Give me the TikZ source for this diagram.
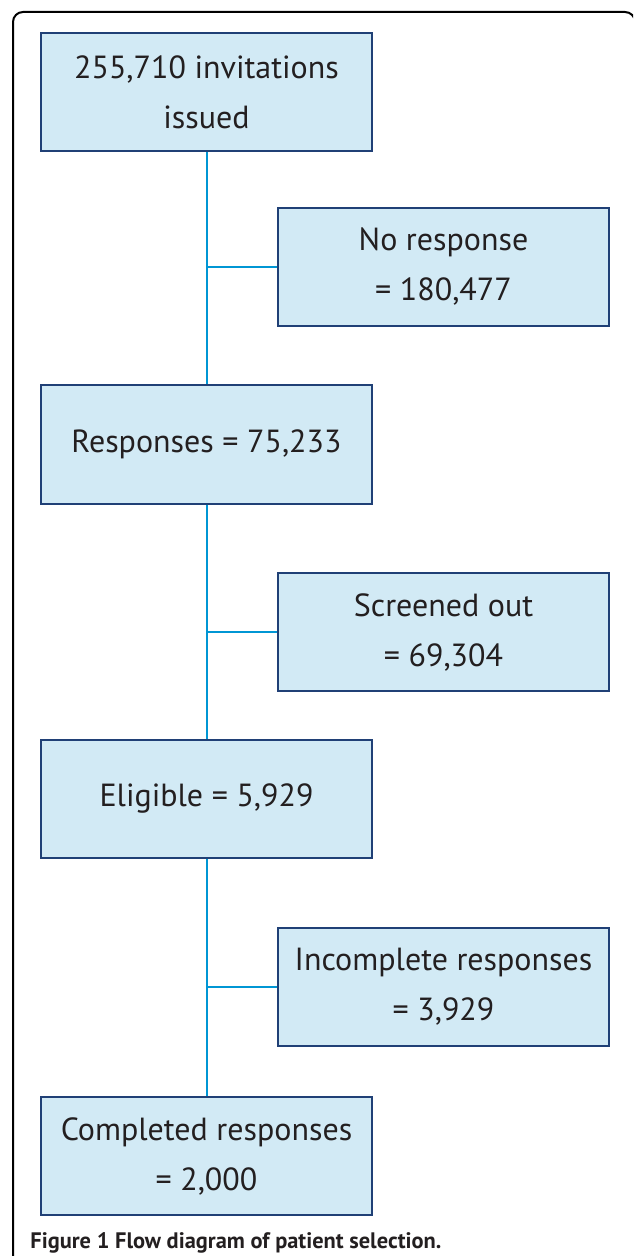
\documentclass[tikz,border=0pt]{standalone}
\usepackage{fontspec}
\setmainfont{PT Sans}
\usepackage{tikz}
\usetikzlibrary{positioning, calc}
\definecolor{boxfill}{RGB}{210,234,245}
\definecolor{boxline}{RGB}{32,64,118}
\definecolor{linkblue}{RGB}{0,150,212}
\definecolor{inkgray}{RGB}{35,31,32}

\begin{document}
\begin{tikzpicture}[
    x=0.5pt, y=-0.5pt,
    stage/.style={rectangle, draw=boxline, line width=1pt, fill=boxfill, text=inkgray,
                  minimum width=165.5pt, minimum height=59pt, align=center,
                  inner sep=0pt, font=\fontsize{16}{25}\selectfont},
    link/.style={draw=linkblue, line width=1pt}
]
    \useasboundingbox (0,0) rectangle (633,1256);
    \clip (0,0) rectangle (633,1256);

    % Frame
    \draw[line width=1pt, rounded corners=5pt] (13,1270) -- (13,12) -- (635,12) -- (635,1270);

    % Main column
    \node[stage] (invite) at (206.5,92) {255,710 invitations\\issued};
    \node[stage] (resp) at (206.5,444.5) {Responses = 75,233};
    \node[stage] (elig) at (206.5,798.5) {Eligible = 5,929};
    \node[stage] (done) at (206.5,1156) {Completed responses\\= 2,000};

    % Exclusions
    \node[stage] (nores) at (443.5,267) {No response\\= 180,477};
    \node[stage] (screen) at (443.5,632) {Screened out\\= 69,304};
    \node[stage] (incomp) at (443.5,987) {Incomplete responses\\= 3,929};

    % Links
    \draw[link] (invite) -- (resp);
    \draw[link] (resp) -- (elig);
    \draw[link] (elig) -- (done);
    \draw[link] (nores.west) -- (nores.west -| invite);
    \draw[link] (screen.west) -- (screen.west -| resp);
    \draw[link] (incomp.west) -- (incomp.west -| elig);

    % Caption
    \node[anchor=base west, inner sep=0pt, text=inkgray, font=\fontsize{11.2}{13}\selectfont\bfseries]
        (caption) at (30,1248) {Figure 1 Flow diagram of patient selection.};
\end{tikzpicture}
\end{document}
